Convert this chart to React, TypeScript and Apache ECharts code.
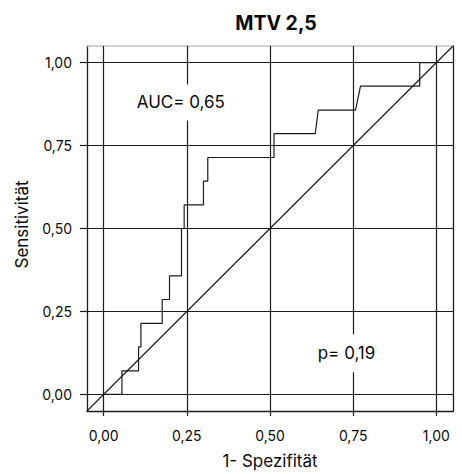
import React, { useEffect, useRef } from "react";
import * as echarts from "echarts";

const titleText = "MTV 2,5";
const xAxisName = "1- Spezifität";
const yAxisName = "Sensitivität";
const tickValues = [0, 0.25, 0.5, 0.75, 1];
const tickLabels = ["0,00", "0,25", "0,50", "0,75", "1,00"];
const rocX = [0, 0.055, 0.055, 0.105, 0.105, 0.112, 0.112, 0.176, 0.176, 0.198, 0.198, 0.234, 0.234, 0.242, 0.242, 0.3, 0.3, 0.313, 0.313, 0.512, 0.512, 0.636, 0.645, 0.757, 0.772, 0.95, 0.95, 1];
const rocY = [0, 0, 0.071, 0.071, 0.143, 0.143, 0.214, 0.214, 0.286, 0.286, 0.357, 0.357, 0.5, 0.5, 0.571, 0.571, 0.643, 0.643, 0.714, 0.714, 0.786, 0.786, 0.857, 0.857, 0.929, 0.929, 1, 1];
const refX = [-0.05, 1.05];
const refY = [-0.05, 1.05];
const annotations = [
  { x: 0.232, y: 0.88, text: "AUC= 0,65", w: 94, h: 36 },
  { x: 0.73, y: 0.124, text: "p= 0,19", w: 70, h: 38 },
];

const FONT = "Inter, 'Noto Sans', sans-serif";
const DARK = "#1c1c1c";
const TXT = "#0a0a0a";

export default function App() {
  const ref = useRef<HTMLDivElement>(null);
  useEffect(() => {
    if (!ref.current) return;
    const chart = echarts.init(ref.current, null, { renderer: "svg" });
    const fmt = (v: number) => {
      const i = tickValues.findIndex((t) => Math.abs(t - v) < 1e-9);
      return i >= 0 ? tickLabels[i] : "";
    };
    const baseAxis = {
      type: "value",
      min: -0.05,
      max: 1.05,
      splitLine: { show: false },
    };
    chart.setOption({
      animation: false,
      backgroundColor: "#fff",
      textStyle: { fontFamily: FONT },
      title: {
        text: titleText,
        left: 271,
        top: 8,
        textAlign: "center",
        textStyle: { fontFamily: FONT, fontSize: 19.5, fontWeight: "bold", color: TXT },
      },
      grid: { left: 87, top: 46, right: 9, bottom: 62 },
      xAxis: [
        {
          ...baseAxis,
          position: "bottom",
          name: xAxisName,
          nameLocation: "middle",
          nameGap: 41,
          nameTextStyle: { fontFamily: FONT, fontSize: 17, color: TXT },
          axisLine: { show: true, onZero: false, lineStyle: { color: DARK, width: 1.3 } },
          axisTick: { show: true, length: 5, customValues: tickValues, lineStyle: { color: DARK, width: 1.2 } },
          axisLabel: { customValues: tickValues, formatter: fmt, margin: 17, fontSize: 14, color: TXT, fontFamily: FONT },
        },
        {
          ...baseAxis,
          position: "top",
          axisLine: { show: true, onZero: false, lineStyle: { color: "#c4c4c4", width: 1.5 } },
          axisTick: { show: false },
          axisLabel: { show: false },
        },
      ],
      yAxis: [
        {
          ...baseAxis,
          position: "left",
          name: yAxisName,
          nameLocation: "middle",
          nameGap: 57,
          nameTextStyle: { fontFamily: FONT, fontSize: 17, color: TXT, padding: [0, 0, 0, 8] },
          axisLine: { show: true, onZero: false, lineStyle: { color: DARK, width: 1.3 } },
          axisTick: { show: true, length: 7, customValues: tickValues, lineStyle: { color: DARK, width: 1.2 } },
          axisLabel: { customValues: tickValues, formatter: fmt, margin: 15, fontSize: 14, color: TXT, fontFamily: FONT },
        },
        {
          ...baseAxis,
          position: "right",
          axisLine: { show: true, onZero: false, lineStyle: { color: DARK, width: 1.3 } },
          axisTick: { show: false },
          axisLabel: { show: false },
        },
      ],
      series: [
        {
          type: "line",
          data: [],
          silent: true,
          z: 1,
          markLine: {
            silent: true,
            z: 1,
            symbol: ["none", "none"],
            label: { show: false },
            lineStyle: { color: DARK, width: 1.2, type: "solid" },
            data: [
              ...tickValues.map((v) => ({ xAxis: v })),
              ...tickValues.map((v) => ({ yAxis: v })),
            ],
          },
        },
        {
          type: "line",
          data: refX.map((x, i) => [x, refY[i]]),
          showSymbol: false,
          silent: true,
          z: 2,
          lineStyle: { color: DARK, width: 1.2 },
        },
        {
          type: "line",
          data: rocX.map((x, i) => [x, rocY[i]]),
          showSymbol: false,
          silent: true,
          z: 3,
          lineStyle: { color: DARK, width: 1.2 },
        },
        {
          type: "scatter",
          data: annotations.map((a) => ({ value: [a.x, a.y, a.text], symbolSize: [a.w, a.h] })),
          symbol: "rect",
          silent: true,
          z: 20,
          itemStyle: { color: "#fff", opacity: 1 },
          label: {
            show: true,
            position: "inside",
            formatter: (p: any) => p.value[2],
            fontFamily: FONT,
            fontSize: 17,
            color: TXT,
          },
        },
      ],
    });
    return () => chart.dispose();
  }, []);
  return (
    <div
      ref={ref}
      style={{ position: "fixed", left: 0, top: 0, width: 462, height: 474, background: "#fff" }}
    />
  );
}
